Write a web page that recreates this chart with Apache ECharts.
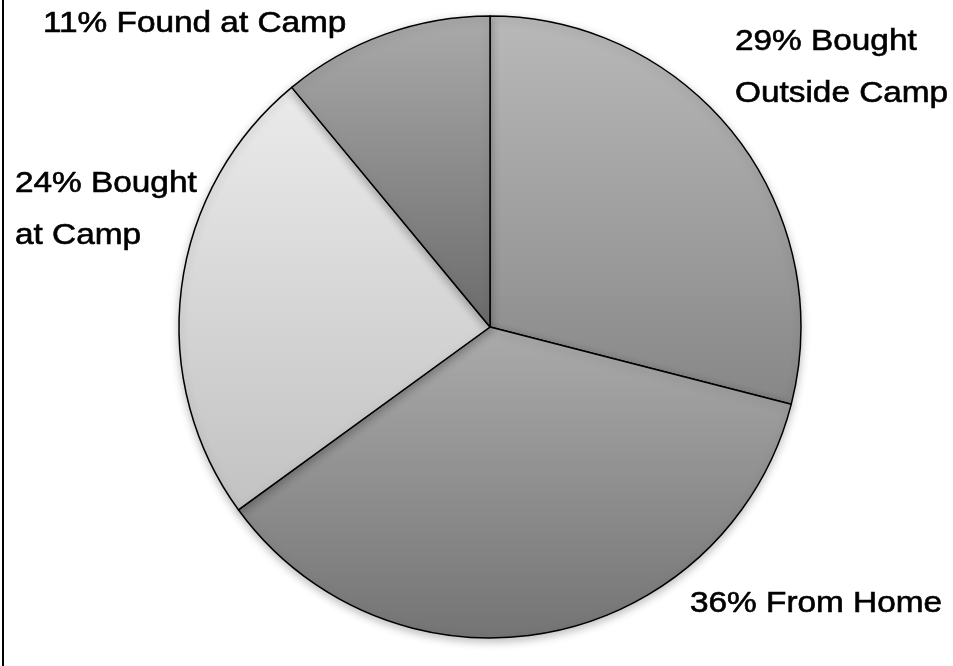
<!DOCTYPE html>
<html>
<head>
<meta charset="utf-8">
<script src="https://cdn.jsdelivr.net/npm/echarts@6/dist/echarts.min.js"></script>
<style>
html,body{margin:0;padding:0;background:#fff;}
#chart{width:953px;height:666px;}
</style>
</head>
<body>
<div id="chart"></div>
<script>
// Data
const categories = ["Bought Outside Camp", "From Home", "Bought at Camp", "Found at Camp"];
const values = [29, 36, 24, 11];
const labelTexts = ["29% Bought\nOutside Camp", "36% From Home", "24% Bought\nat Camp", "11% Found at Camp"];

// Styles (kept separate from data)
const gradients = [
  ["#b9b9b9", "#878787"],
  ["#ababab", "#747474"],
  ["#ebebeb", "#c2c2c2"],
  ["#aaaaaa", "#6b6b6b"]
];
const labelPos = [
  [735, 68],
  [690, 604],
  [15, 210],
  [43, 23.5]
];

const chart = echarts.init(document.getElementById('chart'), null, {renderer: 'canvas'});

const pieData = categories.map((name, i) => ({
  name: name,
  value: values[i],
  itemStyle: {
    color: new echarts.graphic.LinearGradient(0, 0, 0, 1, [
      {offset: 0, color: gradients[i][0]},
      {offset: 1, color: gradients[i][1]}
    ])
  }
}));

const textEls = labelTexts.map((t, i) => ({
  type: 'text',
  x: labelPos[i][0],
  y: labelPos[i][1],
  scaleX: 1.15,
  style: {
    text: t,
    fontFamily: '"Liberation Sans", Arial, Helvetica, sans-serif',
    fontSize: 29,
    lineHeight: 51.5,
    fill: '#000',
    stroke: '#000',
    lineWidth: 0.6,
    align: 'left',
    verticalAlign: 'middle'
  },
  z: 10
}));

chart.setOption({
  backgroundColor: '#fff',
  animation: false,
  series: [{
    type: 'pie',
    center: [490, 327],
    radius: 311,
    startAngle: 90,
    clockwise: true,
    silent: true,
    label: {show: false},
    labelLine: {show: false},
    itemStyle: {
      borderColor: '#000',
      borderWidth: 1.5,
      shadowBlur: 8,
      shadowOffsetY: 3,
      shadowColor: 'rgba(0,0,0,0.25)'
    },
    emphasis: {disabled: true},
    data: pieData
  }],
  graphic: [
    {
      type: 'rect',
      shape: {x: 2, y: 0, width: 2, height: 666},
      style: {fill: '#000'},
      silent: true
    }
  ].concat(textEls)
});
</script>
</body>
</html>
